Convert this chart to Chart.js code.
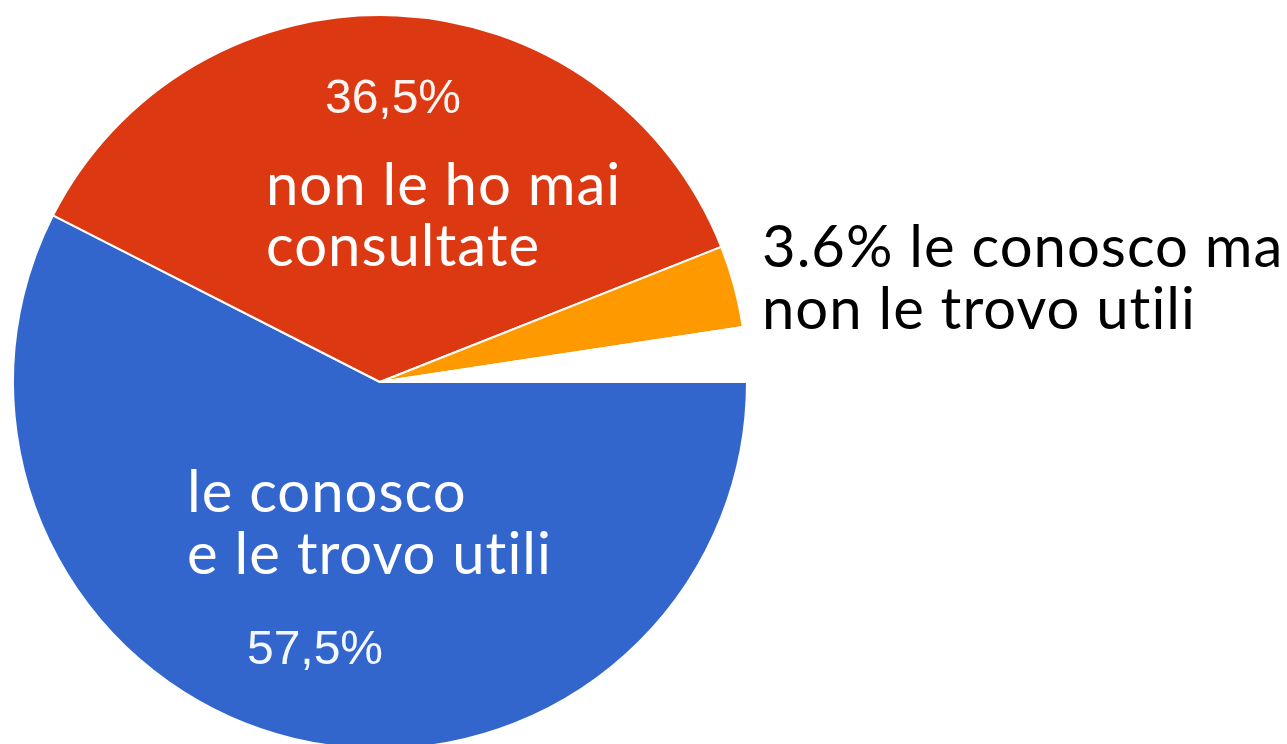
<!DOCTYPE html>
<html>
<head>
<meta charset="utf-8">
<style>
  html, body { margin: 0; padding: 0; background: #fff; overflow: hidden; }
  #wrap { position: relative; width: 1287px; height: 764px; }
</style>
<script src="https://cdn.jsdelivr.net/npm/chart.js@4/dist/chart.umd.min.js"></script>
</head>
<body>
<div id="wrap"><canvas id="pie"></canvas></div>
<script>
var categories = [
  'le conosco e le trovo utili',
  'non le ho mai consultate',
  'le conosco ma non le trovo utili',
  'altro'
];
var values = [57.5, 36.5, 3.6, 2.4];
var colors = ['#3366cc', '#dc3912', '#ff9900', '#ffffff'];
var pctLabels = ['57,5%', '36,5%'];
var blueText = ['le conosco', 'e le trovo utili'];
var redText = ['non le ho mai', 'consultate'];
var orangeText = ['3.6% le conosco ma', 'non le trovo utili'];

var labelFont = '"Lato", "Open Sans", sans-serif';

var textPlugin = {
  id: 'sliceText',
  afterDraw: function (chart) {
    var ctx = chart.ctx;
    ctx.save();
    ctx.textBaseline = 'alphabetic';

    // percentages, Google style
    ctx.font = '48px "Liberation Sans", Arial, sans-serif';
    ctx.fillStyle = 'rgba(255,255,255,0.95)';
    ctx.textAlign = 'center';
    ctx.fillText(pctLabels[1], 393, 113);
    ctx.fillText(pctLabels[0], 315, 664);

    ctx.textAlign = 'left';
    ctx.font = '58px ' + labelFont;
    if ('letterSpacing' in ctx) ctx.letterSpacing = '1px';
    ctx.fillStyle = '#ffffff';
    ctx.fillText(redText[0], 266, 205);
    ctx.fillText(redText[1], 266, 266);
    ctx.fillText(blueText[0], 187, 512);
    ctx.fillText(blueText[1], 187, 574);

    ctx.fillStyle = '#000000';
    ctx.fillText(orangeText[0], 762, 267);
    ctx.fillText(orangeText[1], 762, 329);
    ctx.restore();
  }
};

new Chart(document.getElementById('pie'), {
  type: 'pie',
  data: {
    labels: categories,
    datasets: [
      {
        data: values,
        backgroundColor: colors,
        borderColor: '#ffffff',
        borderWidth: 2
      }
    ]
  },
  options: {
    responsive: true,
    maintainAspectRatio: false,
    animation: false,
    rotation: 90,
    layout: { padding: { left: 12, right: 539, top: 14, bottom: 14 } },
    plugins: {
      legend: { display: false },
      tooltip: { enabled: false }
    }
  },
  plugins: [textPlugin]
});
</script>
</body>
</html>
